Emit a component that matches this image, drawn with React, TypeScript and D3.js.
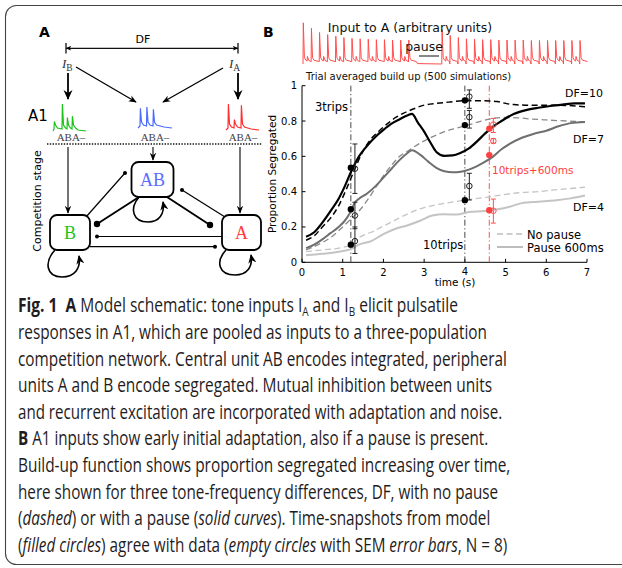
import React, { useLayoutEffect, useRef, useState } from "react";
import * as d3 from "d3";

// ---------- DATA ----------
const X_TICKS = [0, 1, 2, 3, 4, 5, 6, 7];
const Y_TICKS = [0, 0.2, 0.4, 0.6, 0.8, 1];
const Y_TICK_LABELS = ["0", "0.2", "0.4", "0.6", "0.8", "1"];

const DF10_PAUSE: [number, number][] = [[0.1,0.145],[0.3,0.17],[0.5,0.225],[0.7,0.29],[0.9,0.36],[1.05,0.43],[1.2,0.51],[1.4,0.6],[1.6,0.66],[1.8,0.71],[2.0,0.75],[2.2,0.785],[2.4,0.81],[2.6,0.833],[2.7,0.84],[2.85,0.79],[3.0,0.74],[3.15,0.68],[3.3,0.625],[3.5,0.603],[3.7,0.605],[3.9,0.62],[4.1,0.645],[4.3,0.685],[4.5,0.73],[4.7,0.77],[4.9,0.8],[5.2,0.84],[5.5,0.862],[5.8,0.875],[6.1,0.885],[6.4,0.893],[6.7,0.9],[6.95,0.9]];
const DF10_NOPAUSE: [number, number][] = [[0.1,0.125],[0.3,0.15],[0.5,0.2],[0.7,0.25],[0.9,0.32],[1.1,0.42],[1.3,0.53],[1.5,0.63],[1.7,0.7],[1.9,0.745],[2.1,0.785],[2.3,0.82],[2.5,0.845],[2.7,0.865],[3.0,0.89],[3.3,0.9],[3.6,0.907],[4.0,0.915],[4.4,0.915],[4.8,0.91],[5.0,0.9],[5.2,0.893],[5.5,0.89],[6.0,0.89],[6.5,0.888],[6.95,0.88]];
const DF7_PAUSE: [number, number][] = [[0.1,0.08],[0.3,0.1],[0.5,0.13],[0.7,0.165],[0.9,0.2],[1.1,0.25],[1.2,0.29],[1.3,0.34],[1.4,0.36],[1.6,0.39],[1.8,0.43],[2.0,0.48],[2.2,0.53],[2.4,0.58],[2.6,0.62],[2.7,0.635],[2.9,0.61],[3.1,0.57],[3.3,0.535],[3.5,0.515],[3.7,0.51],[3.9,0.513],[4.1,0.525],[4.3,0.545],[4.5,0.57],[4.7,0.6],[4.9,0.64],[5.1,0.67],[5.4,0.705],[5.7,0.728],[6.0,0.745],[6.3,0.77],[6.6,0.788],[6.95,0.795]];
const DF7_NOPAUSE: [number, number][] = [[0.1,0.07],[0.4,0.1],[0.7,0.14],[1.0,0.2],[1.2,0.245],[1.4,0.29],[1.6,0.35],[1.8,0.42],[2.0,0.49],[2.2,0.55],[2.4,0.6],[2.6,0.63],[2.9,0.675],[3.2,0.71],[3.5,0.74],[3.8,0.76],[4.1,0.778],[4.4,0.8],[4.7,0.815],[5.0,0.82],[5.3,0.818],[5.6,0.812],[6.0,0.806],[6.5,0.8],[6.95,0.795]];
const DF4_PAUSE: [number, number][] = [[0.1,0.04],[0.5,0.048],[0.9,0.06],[1.2,0.075],[1.4,0.1],[1.7,0.12],[2.0,0.16],[2.3,0.19],[2.6,0.21],[2.9,0.235],[3.2,0.265],[3.5,0.272],[3.8,0.27],[4.1,0.285],[4.5,0.29],[4.8,0.3],[5.1,0.315],[5.4,0.335],[5.8,0.343],[6.2,0.35],[6.6,0.362],[6.95,0.378]];
const DF4_NOPAUSE: [number, number][] = [[0.1,0.06],[0.5,0.07],[0.9,0.08],[1.2,0.1],[1.4,0.14],[1.7,0.17],[2.0,0.205],[2.3,0.24],[2.6,0.275],[3.0,0.31],[3.4,0.33],[3.8,0.345],[4.2,0.358],[4.6,0.37],[5.0,0.385],[5.4,0.395],[5.8,0.4],[6.2,0.41],[6.6,0.418],[6.95,0.425]];

// model snapshots (filled circles)
const MODEL_BLACK: [number, number][] = [[1.2,0.536],[1.2,0.30],[1.2,0.10],[4.0,0.917],[4.0,0.777],[4.0,0.352]];
const MODEL_RED: [number, number][] = [[4.6,0.757],[4.6,0.607],[4.6,0.295]];
// data (empty circles) [t, mean, hi, lo]
const DATA_BLACK: [number, number, number, number][] = [[1.3,0.53,0.67,0.39],[1.3,0.265,0.34,0.19],[1.3,0.12,0.2,0.05],[4.11,0.938,0.976,0.872],[4.11,0.822,0.86,0.76],[4.11,0.432,0.504,0.353]];
const DATA_RED: [number, number, number, number][] = [[4.7,0.78,0.815,0.735],[4.7,0.687,0.7,0.675],[4.7,0.292,0.358,0.222]];
const VLINES_BLACK = [1.2, 4.0];
const VLINE_RED = 4.6;

// input pulse train (A spike amplitudes, arbitrary units)
const PRE_SPIKES = [0.98, 0.85, 0.75, 0.7, 0.66, 0.63, 0.61, 0.6, 0.59, 0.58, 0.58, 0.57, 0.57, 0.57];
const POST_SPIKES = [0.82, 0.68, 0.63, 0.6, 0.59, 0.58, 0.58, 0.57, 0.57, 0.57, 0.57, 0.56, 0.56, 0.56, 0.56, 0.56, 0.56, 0.56];
const B_BUMP = 0.18;

// mini A1 traces in panel A: [offset, height]
const TRACE_B: [number, number][] = [[1, 0.35], [9, 1.0], [14, 0.5], [19, 0.55]];
const TRACE_AB: [number, number][] = [[2, 0.9], [8.5, 0.95], [15, 0.85]];
const TRACE_A: [number, number][] = [[2, 1.0], [8, 0.4], [15, 0.95]];

type Seg = { t: string; b?: boolean; i?: boolean; sub?: boolean };
const CAPTION: { w: number; segs: Seg[] }[] = [
  { w: 440, segs: [{ t: "Fig. 1", b: true }, { t: "  " }, { t: "A", b: true }, { t: " Model schematic: tone inputs I" }, { t: "A", sub: true }, { t: " and I" }, { t: "B", sub: true }, { t: " elicit pulsatile" }] },
  { w: 469, segs: [{ t: "responses in A1, which are pooled as inputs to a three-population" }] },
  { w: 489, segs: [{ t: "competition network. Central unit AB encodes integrated, peripheral" }] },
  { w: 474, segs: [{ t: "units A and B encode segregated. Mutual inhibition between units" }] },
  { w: 484, segs: [{ t: "and recurrent excitation are incorporated with adaptation and noise." }] },
  { w: 470, segs: [{ t: "B", b: true }, { t: " A1 inputs show early initial adaptation, also if a pause is present." }] },
  { w: 492, segs: [{ t: "Build-up function shows proportion segregated increasing over time," }] },
  { w: 480, segs: [{ t: "here shown for three tone-frequency differences, DF, with no pause" }] },
  { w: 472, segs: [{ t: "(" }, { t: "dashed", i: true }, { t: ") or with a pause (" }, { t: "solid curves", i: true }, { t: "). Time-snapshots from model" }] },
  { w: 489, segs: [{ t: "(" }, { t: "filled circles", i: true }, { t: ") agree with data (" }, { t: "empty circles", i: true }, { t: " with SEM " }, { t: "error bars", i: true }, { t: ", N = 8)" }] },
];

// ---------- LAYOUT ----------
const W = 622, H = 568;
const SANS = "'DejaVu Sans', sans-serif";
const SERIF = "'Liberation Serif', 'DejaVu Serif', serif";
const CAP_FONT = "'Open Sans', 'Noto Sans', sans-serif";

const x = d3.scaleLinear().domain([0, 7]).range([302, 587]);
const y = d3.scaleLinear().domain([0, 1]).range([262.3, 85.7]);
const lineGen = d3.line<[number, number]>().x(d => x(d[0])).y(d => y(d[1])).curve(d3.curveMonotoneX);

// pulse train scales
const xt = d3.scaleLinear().domain([0, 7]).range([303, 587]);
const yt = d3.scaleLinear().domain([0, 1]).range([64, 22]);

function trainPath(): string {
  const pts: [number, number][] = [[0, 0]];
  const period = 0.2;
  PRE_SPIKES.forEach((a, i) => {
    const ts = i * period;
    pts.push([ts, 0.05], [ts + 0.008, a], [ts + 0.035, 0.15], [ts + 0.07, 0.09]);
    if (i % 2 === 0) pts.push([ts + 0.1, 0.07], [ts + 0.11, B_BUMP], [ts + 0.14, 0.09], [ts + 0.19, 0.06]);
    else pts.push([ts + 0.19, 0.06]);
  });
  const lastPre = (PRE_SPIKES.length - 1) * period;
  const postStart = 3.42;
  pts.push([lastPre + 0.22, 0.01], [postStart - 0.005, 0.0]);
  POST_SPIKES.forEach((a, i) => {
    const ts = postStart + i * period;
    pts.push([ts, 0.0], [ts + 0.008, a], [ts + 0.035, 0.15], [ts + 0.07, 0.09]);
    if (i % 2 === 0) pts.push([ts + 0.1, 0.07], [ts + 0.11, B_BUMP], [ts + 0.14, 0.09], [ts + 0.19, 0.06]);
    else pts.push([ts + 0.19, 0.06]);
  });
  return d3.line<[number, number]>().x(d => xt(d[0])).y(d => yt(d[1]))(pts) || "";
}

function miniTrace(spikes: [number, number][], x0: number, x1: number, base: number, amp: number): string {
  const pts: [number, number][] = [[x0, base]];
  spikes.forEach(([o, h]) => {
    pts.push([x0 + o, base - 2], [x0 + o + 0.4, base - h * amp], [x0 + o + 1.5, base - 6], [x0 + o + 3.5, base - 3]);
  });
  pts.push([x1 - 8, base - 1], [x1, base]);
  return d3.line()(pts) || "";
}

function CaptionLine({ ln, yPos }: { ln: { w: number; segs: Seg[] }; yPos: number }) {
  const ref = useRef<SVGTextElement>(null);
  const [s, setS] = useState(0.78);
  useLayoutEffect(() => {
    if (ref.current) {
      const w = ref.current.getComputedTextLength();
      if (w > 0) setS(ln.w / w);
    }
  }, [ln.w]);
  let prevSub = false;
  return (
    <g transform={`translate(18,${yPos}) scale(${s},1)`}>
      <text ref={ref} x={0} y={0} style={{ whiteSpace: "pre" }}>
        {ln.segs.map((sg, si) => {
          let dy: number | undefined = undefined;
          if (sg.sub) dy = 3.5;
          else if (prevSub) dy = -3.5;
          prevSub = !!sg.sub;
          return (
            <tspan key={si} dy={dy} fontSize={sg.sub ? 12.5 : undefined}
              fontWeight={sg.b ? "bold" : undefined} fontStyle={sg.i ? "italic" : undefined}>{sg.t}</tspan>
          );
        })}
      </text>
    </g>
  );
}

function CaptionText() {
  return (
    <g fill="#1f1c1d" fontFamily={CAP_FONT} fontSize={19.5}>
      {CAPTION.map((ln, li) => <CaptionLine key={li} ln={ln} yPos={312.3 + li * 26.6} />)}
    </g>
  );
}

function PanelA() {
  const thick = 1.9, thin = 1.2;
  return (
    <g>
      <text x={39} y={37} fontFamily={SANS} fontWeight="bold" fontSize={14}>A</text>
      {/* DF bar */}
      <line x1={66} x2={238} y1={48.3} y2={48.3} stroke="#111" strokeWidth={1.3} markerStart="url(#smallArr)" markerEnd="url(#smallArr)" />
      <line x1={66} x2={66} y1={43} y2={53.5} stroke="#111" strokeWidth={1.3} />
      <line x1={238} x2={238} y1={43} y2={53.5} stroke="#111" strokeWidth={1.3} />
      <text x={143} y={43} textAnchor="middle" fontFamily={SANS} fontSize={11}>DF</text>
      {/* inputs */}
      <text x={62} y={68} fontFamily={SERIF} fontSize={13} fontStyle="italic" fill="#333">I<tspan dy={3} fontSize={9.5} fontStyle="normal">B</tspan></text>
      <text x={229} y={68} fontFamily={SERIF} fontSize={13} fontStyle="italic" fill="#333">I<tspan dy={3} fontSize={9.5} fontStyle="normal">A</tspan></text>
      <line x1={68} x2={68} y1={73} y2={99} stroke="#000" strokeWidth={1.8} markerEnd="url(#bigArr)" />
      <line x1={238} x2={238} y1={73} y2={99} stroke="#000" strokeWidth={1.8} markerEnd="url(#bigArr)" />
      <line x1={76} x2={136} y1={67} y2={102} stroke="#000" strokeWidth={1.3} markerEnd="url(#midArr)" />
      <line x1={223} x2={163} y1={68} y2={102} stroke="#000" strokeWidth={1.3} markerEnd="url(#midArr)" />
      <text x={28} y={121} fontFamily={SANS} fontSize={15}>A1</text>
      {/* mini traces */}
      <path d={miniTrace(TRACE_B, 53, 86, 131, 27)} fill="none" stroke="#19c319" strokeWidth={1.2} />
      <path d={miniTrace(TRACE_AB, 138, 172, 128, 22)} fill="none" stroke="#4a6cff" strokeWidth={1.2} />
      <path d={miniTrace(TRACE_A, 226, 259, 130, 26)} fill="none" stroke="#ff3030" strokeWidth={1.2} />
      {[71, 155, 243].map((cx, i) => (
        <text key={i} x={cx} y={140.5} textAnchor="middle" fontFamily={SERIF} fontSize={11} fill="#444">ABA–</text>
      ))}
      <line x1={47} x2={262} y1={144} y2={144} stroke="#111" strokeWidth={1.4} strokeDasharray="1.4,1.4" />
      <text transform="translate(41,201) rotate(-90)" textAnchor="middle" fontFamily={SANS} fontSize={11}>Competition stage</text>
      {/* down arrows */}
      <line x1={68} x2={68} y1={147} y2={213} stroke="#000" strokeWidth={1.1} markerEnd="url(#midArr)" />
      <line x1={153} x2={153} y1={147} y2={160} stroke="#000" strokeWidth={1.1} markerEnd="url(#midArr)" />
      <line x1={240} x2={240} y1={147} y2={213} stroke="#000" strokeWidth={1.1} markerEnd="url(#midArr)" />
      {/* inhibitory connections */}
      <line x1={86} y1={217} x2={125} y2={173} stroke="#000" strokeWidth={thin} />
      <circle cx={125} cy={173} r={2} fill="#000" />
      <line x1={139} y1={197} x2={97} y2={224} stroke="#000" strokeWidth={thick} />
      <circle cx={97} cy={224} r={3.2} fill="#000" />
      <line x1={225} y1={217} x2={182} y2={190} stroke="#000" strokeWidth={thin} />
      <circle cx={182} cy={190} r={2} fill="#000" />
      <line x1={167} y1={197} x2={210} y2={225} stroke="#000" strokeWidth={thick} />
      <circle cx={210} cy={225} r={3.2} fill="#000" />
      <line x1={97} y1={236.5} x2={222} y2={236.5} stroke="#000" strokeWidth={thin} />
      <circle cx={97} cy={236.5} r={2} fill="#000" />
      <line x1={90} y1={246.7} x2={215} y2={246.7} stroke="#000" strokeWidth={thin} />
      <circle cx={215} cy={246.7} r={2} fill="#000" />
      {/* self loops */}
      <path d="M55,250 C44,262 46,277 62,277 C75,277 81,268 79,256" fill="none" stroke="#000" strokeWidth={1.6} markerEnd="url(#loopArr)" />
      <path d="M139,197 C129,209 133,222 148,222 C159,222 165,214 163,202" fill="none" stroke="#000" strokeWidth={1.6} markerEnd="url(#loopArr)" />
      <path d="M226,250 C215,262 219,275 235,275 C247,275 253,267 251,255" fill="none" stroke="#000" strokeWidth={1.6} markerEnd="url(#loopArr)" />
      {/* boxes */}
      <rect x={131.5} y={162} width={42} height={35} rx={7} fill="#fff" stroke="#000" strokeWidth={1.8} />
      <text x={152.5} y={186} textAnchor="middle" fontFamily={SERIF} fontSize={18} fill="#5b6cff">AB</text>
      <rect x={50} y={215} width={40} height={35} rx={7} fill="#fff" stroke="#000" strokeWidth={1.8} />
      <text x={70} y={239} textAnchor="middle" fontFamily={SERIF} fontSize={18} fill="#1ec21e">B</text>
      <rect x={222} y={215} width={39} height={35} rx={7} fill="#fff" stroke="#000" strokeWidth={1.8} />
      <text x={241.5} y={239} textAnchor="middle" fontFamily={SERIF} fontSize={18} fill="#ff3b3b">A</text>
    </g>
  );
}

function PanelB() {
  const dashNP = "6,3.5";
  const dashDot = "6,2.5,1.2,2.5";
  return (
    <g fontFamily={SANS}>
      <text x={263} y={37} fontWeight="bold" fontSize={14}>B</text>
      <path d={trainPath()} fill="none" stroke="#ff4d4d" strokeWidth={1} />
      <text x={410} y={32} textAnchor="middle" fontSize={12.5} fill="#111">Input to A (arbitrary units)</text>
      <text x={424} y={51} textAnchor="middle" fontSize={12.5} fill="#111">pause</text>
      <line x1={419} x2={439} y1={56} y2={56} stroke="#111" strokeWidth={1} />
      <text x={306} y={80} fontSize={10} fill="#111">Trial averaged build up (500 simulations)</text>

      {/* axes */}
      <line x1={x(0)} x2={x(0)} y1={y(0)} y2={y(1)} stroke="#000" strokeWidth={1} />
      <line x1={x(0)} x2={x(7)} y1={y(0)} y2={y(0)} stroke="#000" strokeWidth={1} />
      {Y_TICKS.map((v, i) => (
        <g key={i}>
          <line x1={x(0)} x2={x(0) + 3.5} y1={y(v)} y2={y(v)} stroke="#000" />
          <text x={x(0) - 5} y={y(v) + 3.5} textAnchor="end" fontSize={10}>{Y_TICK_LABELS[i]}</text>
        </g>
      ))}
      {X_TICKS.map(v => (
        <g key={v}>
          <line x1={x(v)} x2={x(v)} y1={y(0)} y2={y(0) - 3.5} stroke="#000" />
          <text x={x(v)} y={v === 4 ? 274.5 : 276} textAnchor="middle" fontSize={10}>{v}</text>
        </g>
      ))}
      <text x={455} y={285.5} textAnchor="middle" fontSize={10.5}>time (s)</text>
      <text transform={`translate(276,${(y(0) + y(1)) / 2}) rotate(-90)`} textAnchor="middle" fontSize={10.5}>Proportion Segregated</text>

      {/* vertical reference lines */}
      {VLINES_BLACK.map(v => (
        <line key={v} x1={x(v)} x2={x(v)} y1={y(0)} y2={y(1)} stroke="#333" strokeWidth={0.9} strokeDasharray={dashDot} />
      ))}
      <line x1={x(VLINE_RED)} x2={x(VLINE_RED)} y1={y(0)} y2={y(1)} stroke="#ff4040" strokeWidth={0.9} strokeDasharray={dashDot} />

      {/* curves */}
      <path d={lineGen(DF4_NOPAUSE) || ""} fill="none" stroke="#c4c4c4" strokeWidth={1.3} strokeDasharray={dashNP} />
      <path d={lineGen(DF4_PAUSE) || ""} fill="none" stroke="#c4c4c4" strokeWidth={2} />
      <path d={lineGen(DF7_NOPAUSE) || ""} fill="none" stroke="#8a8a8a" strokeWidth={1.3} strokeDasharray={dashNP} />
      <path d={lineGen(DF7_PAUSE) || ""} fill="none" stroke="#6f6f6f" strokeWidth={2} />
      <path d={lineGen(DF10_NOPAUSE) || ""} fill="none" stroke="#000" strokeWidth={1.5} strokeDasharray={dashNP} />
      <path d={lineGen(DF10_PAUSE) || ""} fill="none" stroke="#000" strokeWidth={2.2} />

      {/* data with error bars */}
      {DATA_BLACK.map((d, i) => (
        <g key={i} stroke="#222" strokeWidth={1} fill="none">
          <line x1={x(d[0])} x2={x(d[0])} y1={y(d[2])} y2={y(d[3])} />
          <line x1={x(d[0]) - 2.5} x2={x(d[0]) + 2.5} y1={y(d[2])} y2={y(d[2])} />
          <line x1={x(d[0]) - 2.5} x2={x(d[0]) + 2.5} y1={y(d[3])} y2={y(d[3])} />
          <circle cx={x(d[0])} cy={y(d[1])} r={2.8} />
        </g>
      ))}
      {DATA_RED.map((d, i) => (
        <g key={i} stroke="#ff5050" strokeWidth={1} fill="none">
          <line x1={x(d[0])} x2={x(d[0])} y1={y(d[2])} y2={y(d[3])} />
          <line x1={x(d[0]) - 2.5} x2={x(d[0]) + 2.5} y1={y(d[2])} y2={y(d[2])} />
          <line x1={x(d[0]) - 2.5} x2={x(d[0]) + 2.5} y1={y(d[3])} y2={y(d[3])} />
          <circle cx={x(d[0])} cy={y(d[1])} r={2.8} />
        </g>
      ))}
      {MODEL_BLACK.map((d, i) => <circle key={i} cx={x(d[0])} cy={y(d[1])} r={3.2} fill="#000" />)}
      {MODEL_RED.map((d, i) => <circle key={i} cx={x(d[0])} cy={y(d[1])} r={3.2} fill="#ff4040" />)}

      {/* labels */}
      <text x={315} y={111} fontSize={11.5}>3trips</text>
      <text x={423} y={249} fontSize={11.5}>10trips</text>
      <text x={492} y={174} fontSize={10.5} fill="#ff4040">10trips+600ms</text>
      <text x={565} y={97} fontSize={11}>DF=10</text>
      <text x={573} y={143} fontSize={11}>DF=7</text>
      <text x={573} y={211} fontSize={11}>DF=4</text>

      {/* legend */}
      <line x1={497} x2={523} y1={234} y2={234} stroke="#bdbdbd" strokeWidth={1.3} strokeDasharray={dashNP} />
      <text x={527} y={238.5} fontSize={11.5}>No pause</text>
      <line x1={497} x2={523} y1={247} y2={247} stroke="#bdbdbd" strokeWidth={2} />
      <text x={527} y={251.5} fontSize={11.5}>Pause 600ms</text>
    </g>
  );
}

export default function App() {
  return (
    <svg width={W} height={H} viewBox={`0 0 ${W} ${H}`} style={{ position: "absolute", left: 0, top: 0, background: "#fff" }}>
      <defs>
        <marker id="bigArr" viewBox="0 0 10 10" refX={9} refY={5} markerWidth={10} markerHeight={10} markerUnits="userSpaceOnUse" orient="auto">
          <path d="M0,0.5 L10,5 L0,9.5 L3,5 z" fill="#000" />
        </marker>
        <marker id="midArr" viewBox="0 0 10 10" refX={9} refY={5} markerWidth={8} markerHeight={8} markerUnits="userSpaceOnUse" orient="auto">
          <path d="M0,1 L10,5 L0,9 L3,5 z" fill="#000" />
        </marker>
        <marker id="loopArr" viewBox="0 0 10 10" refX={9} refY={5} markerWidth={9} markerHeight={9} markerUnits="userSpaceOnUse" orient="auto">
          <path d="M0,0.5 L10,5 L0,9.5 L3,5 z" fill="#000" />
        </marker>
        <marker id="smallArr" viewBox="0 0 10 10" refX={9} refY={5} markerWidth={6} markerHeight={6} markerUnits="userSpaceOnUse" orient="auto-start-reverse">
          <path d="M0,1 L10,5 L0,9 L3,5 z" fill="#000" />
        </marker>
      </defs>
      <rect x={5.5} y={5.5} width={700} height={559} rx={11} fill="none" stroke="#444" strokeWidth={1.1} />
      <PanelA />
      <PanelB />
      <CaptionText />
    </svg>
  );
}
